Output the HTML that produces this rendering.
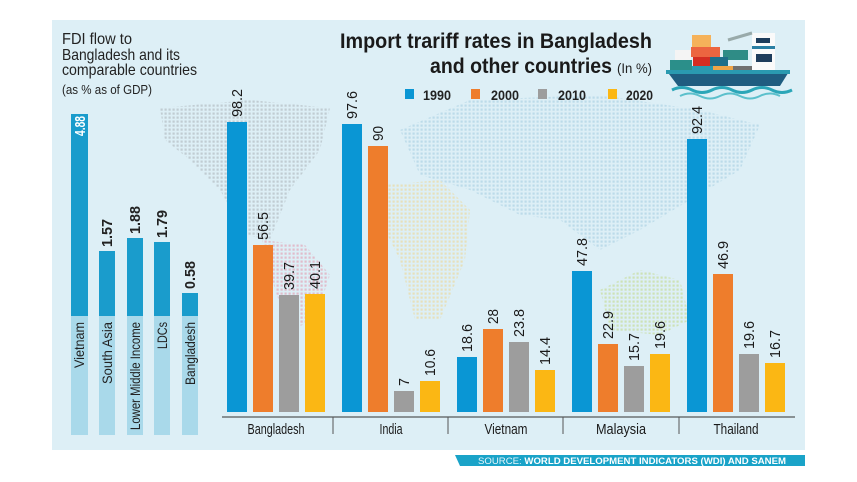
<!DOCTYPE html>
<html><head><meta charset="utf-8"><style>
html,body{margin:0;padding:0;background:#fff;}
svg{display:block;}
text{font-family:"Liberation Sans Narrow","Liberation Sans",sans-serif;}
</style></head><body>
<svg width="857" height="482" viewBox="0 0 857 482" xmlns="http://www.w3.org/2000/svg">
<defs>
<pattern id="dg" width="4" height="4" patternUnits="userSpaceOnUse"><rect x="0.5" y="0.5" width="2.2" height="2.2" fill="#c0ccd2"/></pattern>
<pattern id="db" width="4" height="4" patternUnits="userSpaceOnUse"><rect x="0.5" y="0.5" width="2.2" height="2.2" fill="#bcdbe9"/></pattern>
<pattern id="dy" width="4" height="4" patternUnits="userSpaceOnUse"><rect x="0.5" y="0.5" width="2.2" height="2.2" fill="#e6e0bb"/></pattern>
<pattern id="dp" width="4" height="4" patternUnits="userSpaceOnUse"><rect x="0.5" y="0.5" width="2.2" height="2.2" fill="#e0bccb"/></pattern>
<pattern id="dgr" width="4" height="4" patternUnits="userSpaceOnUse"><rect x="0.5" y="0.5" width="2.2" height="2.2" fill="#cde2b6"/></pattern>
</defs>
<rect x="52" y="20" width="753" height="430" fill="#ddeff6"/>
<path d="M160 108 L250 100 L330 108 L320 150 L290 190 L270 240 L245 235 L220 190 L190 160 L165 140 Z" fill="url(#dg)"/>
<path d="M262 240 L305 245 L330 275 L315 320 L290 330 L275 290 Z" fill="url(#dp)"/>
<path d="M400 130 L470 100 L600 95 L700 110 L760 125 L740 170 L690 200 L640 230 L600 250 L560 220 L520 215 L470 190 L420 175 Z" fill="url(#db)"/>
<path d="M385 185 L440 180 L470 210 L465 260 L440 320 L415 320 L400 260 L380 220 Z" fill="url(#dy)"/>
<path d="M600 290 L640 270 L680 280 L690 320 L660 335 L610 330 Z" fill="url(#dgr)"/>
<text x="62" y="44" font-size="16" fill="#222" textLength="70" lengthAdjust="spacingAndGlyphs">FDI flow to</text>
<text x="62" y="60" font-size="16" fill="#222" textLength="118" lengthAdjust="spacingAndGlyphs">Bangladesh and its</text>
<text x="62" y="75" font-size="16" fill="#222" textLength="135" lengthAdjust="spacingAndGlyphs">comparable countries</text>
<text x="62" y="94" font-size="13" fill="#222" textLength="90" lengthAdjust="spacingAndGlyphs">(as % as of GDP)</text>
<g fill="#a9d9ea">
<rect x="71" y="316" width="17" height="119"/><rect x="99" y="316" width="16" height="119"/><rect x="127" y="316" width="16" height="119"/><rect x="154" y="316" width="16" height="119"/><rect x="182" y="316" width="16" height="119"/>
</g>
<g fill="#1a9ccc">
<rect x="71" y="114" width="17" height="202"/><rect x="99" y="251" width="16" height="65"/><rect x="127" y="238" width="16" height="78"/><rect x="154" y="242" width="16" height="74"/><rect x="182" y="293" width="16" height="23"/>
</g>
<g font-size="15" font-weight="bold">
<text transform="translate(85,116) rotate(-90)" text-anchor="end" fill="#fff" textLength="20" lengthAdjust="spacingAndGlyphs">4.88</text>
<text transform="translate(112,247) rotate(-90)" fill="#222" textLength="28" lengthAdjust="spacingAndGlyphs">1.57</text>
<text transform="translate(140,234) rotate(-90)" fill="#222" textLength="28" lengthAdjust="spacingAndGlyphs">1.88</text>
<text transform="translate(167,238) rotate(-90)" fill="#222" textLength="28" lengthAdjust="spacingAndGlyphs">1.79</text>
<text transform="translate(195,289) rotate(-90)" fill="#222" textLength="28" lengthAdjust="spacingAndGlyphs">0.58</text>
</g>
<g font-size="14" fill="#222" text-anchor="end">
<text transform="translate(84,322) rotate(-90)" textLength="46" lengthAdjust="spacingAndGlyphs">Vietnam</text>
<text transform="translate(112,322) rotate(-90)" textLength="62" lengthAdjust="spacingAndGlyphs">South Asia</text>
<text transform="translate(140,322) rotate(-90)" textLength="108" lengthAdjust="spacingAndGlyphs">Lower Middle Income</text>
<text transform="translate(167,322) rotate(-90)" textLength="27" lengthAdjust="spacingAndGlyphs">LDCs</text>
<text transform="translate(195,322) rotate(-90)" textLength="63" lengthAdjust="spacingAndGlyphs">Bangladesh</text>
</g>
<text x="652" y="48" font-size="21" font-weight="bold" fill="#1a1a1a" text-anchor="end" textLength="312" lengthAdjust="spacingAndGlyphs">Import trariff rates in Bangladesh</text>
<text x="430" y="73" font-size="21" font-weight="bold" fill="#1a1a1a" textLength="182" lengthAdjust="spacingAndGlyphs">and other countries</text>
<text x="617" y="73" font-size="14" fill="#222" textLength="35" lengthAdjust="spacingAndGlyphs">(In %)</text>
<g font-size="14" font-weight="bold" fill="#222">
<rect x="405" y="89" width="9" height="10" fill="#0a96d4"/><text x="423" y="100" textLength="28" lengthAdjust="spacingAndGlyphs">1990</text>
<rect x="471" y="89" width="9" height="10" fill="#ee7d2c"/><text x="491" y="100" textLength="28" lengthAdjust="spacingAndGlyphs">2000</text>
<rect x="538" y="89" width="9" height="10" fill="#9d9d9d"/><text x="558" y="100" textLength="28" lengthAdjust="spacingAndGlyphs">2010</text>
<rect x="608" y="89" width="9" height="10" fill="#fbb714"/><text x="626" y="100" textLength="27" lengthAdjust="spacingAndGlyphs">2020</text>
</g>
<rect x="692" y="35" width="19" height="12" fill="#f5b25a"/>
<rect x="691" y="47" width="29" height="10" fill="#ec6540"/>
<rect x="675" y="50" width="16" height="10" fill="#f4f4f4"/>
<rect x="723" y="50" width="25" height="10" fill="#2f8c86"/>
<rect x="670" y="60" width="22" height="10" fill="#2b8f8a"/>
<rect x="693" y="57" width="17" height="9" fill="#d42d22"/>
<rect x="710" y="57" width="18" height="9" fill="#1f6f8a"/>
<rect x="713" y="66" width="20" height="8" fill="#f0a447"/>
<rect x="733" y="66" width="19" height="8" fill="#707070"/>
<rect x="692" y="66" width="21" height="4" fill="#2a9ab0"/>
<rect x="752" y="33" width="23" height="40" fill="#fafafa"/>
<rect x="752" y="46" width="23" height="3" fill="#2a7fa3"/>
<rect x="756" y="38" width="14" height="5" fill="#1e3d5c"/>
<rect x="756" y="54" width="16" height="8" fill="#1e3d5c"/>
<line x1="728" y1="40" x2="752" y2="33" stroke="#9aa" stroke-width="3"/>
<path d="M666 70 L790 70 L780 86 L678 86 Z" fill="#1f5d80"/>
<rect x="666" y="70" width="124" height="4" fill="#2a9ab0"/>
<path d="M672 90 q10 -5 20 0 t20 0 t20 0 t20 0 t20 0 t20 0" stroke="#2ba6b8" stroke-width="3" fill="none"/>
<path d="M680 96 q10 -5 20 0 t20 0 t20 0 t20 0 t20 0" stroke="#5cc0cc" stroke-width="2" fill="none"/>
<g fill="#0a96d4"><rect x="227" y="122" width="20" height="290"/><rect x="342" y="124" width="20" height="288"/><rect x="457" y="357" width="20" height="55"/><rect x="572" y="271" width="20" height="141"/><rect x="687" y="139" width="20" height="273"/></g>
<g fill="#ee7d2c"><rect x="253" y="245" width="20" height="167"/><rect x="368" y="146" width="20" height="266"/><rect x="483" y="329" width="20" height="83"/><rect x="598" y="344" width="20" height="68"/><rect x="713" y="274" width="20" height="138"/></g>
<g fill="#9d9d9d"><rect x="279" y="295" width="20" height="117"/><rect x="394" y="391" width="20" height="21"/><rect x="509" y="342" width="20" height="70"/><rect x="624" y="366" width="20" height="46"/><rect x="739" y="354" width="20" height="58"/></g>
<g fill="#fbb714"><rect x="305" y="294" width="20" height="118"/><rect x="420" y="381" width="20" height="31"/><rect x="535" y="370" width="20" height="42"/><rect x="650" y="354" width="20" height="58"/><rect x="765" y="363" width="20" height="49"/></g>
<g font-size="15" fill="#1a1a1a" lengthAdjust="spacingAndGlyphs">
<text transform="translate(242,117) rotate(-90)" textLength="28" lengthAdjust="spacingAndGlyphs">98.2</text>
<text transform="translate(268,240) rotate(-90)" textLength="28" lengthAdjust="spacingAndGlyphs">56.5</text>
<text transform="translate(294,290) rotate(-90)" textLength="28" lengthAdjust="spacingAndGlyphs">39.7</text>
<text transform="translate(320,289) rotate(-90)" textLength="28" lengthAdjust="spacingAndGlyphs">40.1</text>
<text transform="translate(357,119) rotate(-90)" textLength="28" lengthAdjust="spacingAndGlyphs">97.6</text>
<text transform="translate(383,141) rotate(-90)" textLength="15" lengthAdjust="spacingAndGlyphs">90</text>
<text transform="translate(409,386) rotate(-90)" textLength="8" lengthAdjust="spacingAndGlyphs">7</text>
<text transform="translate(435,376) rotate(-90)" textLength="27" lengthAdjust="spacingAndGlyphs">10.6</text>
<text transform="translate(472,352) rotate(-90)" textLength="28" lengthAdjust="spacingAndGlyphs">18.6</text>
<text transform="translate(498,324) rotate(-90)" textLength="15" lengthAdjust="spacingAndGlyphs">28</text>
<text transform="translate(524,337) rotate(-90)" textLength="28" lengthAdjust="spacingAndGlyphs">23.8</text>
<text transform="translate(550,365) rotate(-90)" textLength="28" lengthAdjust="spacingAndGlyphs">14.4</text>
<text transform="translate(587,266) rotate(-90)" textLength="28" lengthAdjust="spacingAndGlyphs">47.8</text>
<text transform="translate(613,339) rotate(-90)" textLength="28" lengthAdjust="spacingAndGlyphs">22.9</text>
<text transform="translate(639,361) rotate(-90)" textLength="28" lengthAdjust="spacingAndGlyphs">15.7</text>
<text transform="translate(665,349) rotate(-90)" textLength="28" lengthAdjust="spacingAndGlyphs">19.6</text>
<text transform="translate(702,134) rotate(-90)" textLength="28" lengthAdjust="spacingAndGlyphs">92.4</text>
<text transform="translate(728,269) rotate(-90)" textLength="28" lengthAdjust="spacingAndGlyphs">46.9</text>
<text transform="translate(754,349) rotate(-90)" textLength="28" lengthAdjust="spacingAndGlyphs">19.6</text>
<text transform="translate(780,358) rotate(-90)" textLength="28" lengthAdjust="spacingAndGlyphs">16.7</text>
</g>
<line x1="222" y1="417" x2="795" y2="417" stroke="#333" stroke-width="1"/>
<g stroke="#555" stroke-width="1"><line x1="333" y1="417" x2="333" y2="434"/><line x1="448" y1="417" x2="448" y2="434"/><line x1="563" y1="417" x2="563" y2="434"/><line x1="679" y1="417" x2="679" y2="434"/></g>
<g font-size="15" fill="#1a1a1a" text-anchor="middle">
<text x="276" y="434" textLength="57" lengthAdjust="spacingAndGlyphs">Bangladesh</text>
<text x="391" y="434" textLength="23" lengthAdjust="spacingAndGlyphs">India</text>
<text x="506" y="434" textLength="43" lengthAdjust="spacingAndGlyphs">Vietnam</text>
<text x="621" y="434" textLength="50" lengthAdjust="spacingAndGlyphs">Malaysia</text>
<text x="736" y="434" textLength="45" lengthAdjust="spacingAndGlyphs">Thailand</text>
</g>
<path d="M455 455 L805 455 L805 466 L460 466 Z" fill="#1aa3c8"/>
<text x="478" y="464" font-size="9" fill="#e8f6fb" font-family="Liberation Sans, sans-serif" textLength="308" lengthAdjust="spacingAndGlyphs">SOURCE: <tspan font-weight="bold" fill="#fff">WORLD DEVELOPMENT INDICATORS (WDI) AND SANEM</tspan></text>
</svg>
</body></html>
